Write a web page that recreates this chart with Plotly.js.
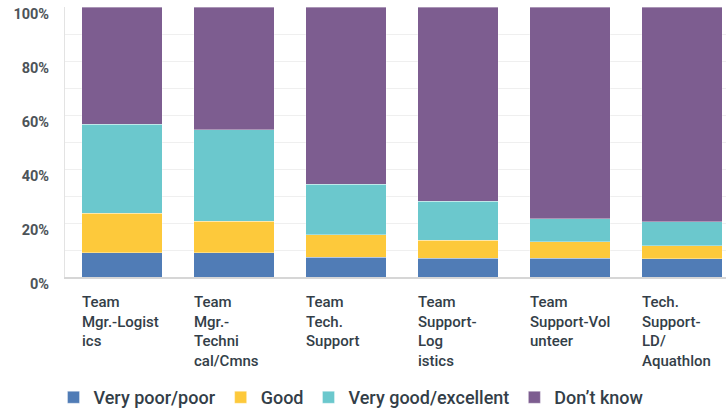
<!DOCTYPE html>
<html>
<head>
<meta charset="utf-8">
<script src="https://cdn.plot.ly/plotly-3.0.1.min.js"></script>
<style>
html,body{margin:0;padding:0;background:#fff;overflow:hidden;}
#chart{width:726px;height:410px;}
</style>
</head>
<body>
<div id="chart"></div>
<script>
const categories = [
  "Team Mgr.-Logistics",
  "Team Mgr.-Technical/Cmns",
  "Team Tech. Support",
  "Team Support-Logistics",
  "Team Support-Volunteer",
  "Tech. Support-LD/Aquathlon"
];
const categoryLabels = [
  "Team<br>Mgr.-Logist<br>ics",
  "Team<br>Mgr.-<br>Techni<br>cal/Cmns",
  "Team<br>Tech.<br>Support",
  "Team<br>Support-<br>Log<br>istics",
  "Team<br>Support-Vol<br>unteer",
  "Tech.<br>Support-<br>LD/<br>Aquathlon"
];
const seriesNames = ["Very poor/poor", "Good", "Very good/excellent", "Don\u2019t know"];
const veryPoorPoor = [9.0, 9.0, 7.4, 7.0, 7.0, 6.7];
const good = [14.6, 11.6, 8.2, 6.6, 6.1, 4.8];
const veryGoodExcellent = [32.9, 34.0, 18.8, 14.4, 8.4, 9.0];
const dontKnow = [43.5, 45.4, 65.6, 72.0, 78.5, 79.5];
const yTickValues = [0, 20, 40, 60, 80, 100];
const yTickLabels = ["0%", "20%", "40%", "60%", "80%", "100%"];

const colors = ["#507cb6", "#fdc93b", "#6bc8cd", "#7d5d90"];
const values = [veryPoorPoor, good, veryGoodExcellent, dontKnow];

const traces = values.map((v, i) => ({
  type: "bar",
  name: seriesNames[i],
  x: categories,
  y: v,
  marker: {color: colors[i], line: {color: "rgba(255,255,255,0.35)", width: 1}},
  hoverinfo: "none"
}));

const annotations = categories.map((c, i) => ({
  x: c, xref: "x",
  y: 0, yref: "paper",
  xanchor: "left", yanchor: "top",
  xshift: -42, yshift: -14,
  align: "left",
  showarrow: false,
  text: categoryLabels[i],
  font: {family: "Roboto, 'Open Sans', sans-serif", size: 15, weight: 500, color: "#333e48"}
}));

const layout = {
  width: 726, height: 410,
  margin: {l: 65, r: 0, t: 7, b: 133, pad: 0, autoexpand: false},
  paper_bgcolor: "#fff", plot_bgcolor: "#fff",
  barmode: "stack",
  bargap: 0.28,
  showlegend: true,
  legend: {
    orientation: "h",
    x: -0.0174, xanchor: "left",
    y: -0.378, yanchor: "top",
    font: {family: "Roboto, 'Open Sans', sans-serif", size: 18, weight: 500, color: "#333e48"},
    traceorder: "normal",
    itemclick: false, itemdoubleclick: false
  },
  xaxis: {
    type: "category",
    range: [-0.509, 5.393],
    showticklabels: false,
    showgrid: false,
    zeroline: false,
    showline: true, linecolor: "#d6d6d6", linewidth: 2,
    ticks: "", fixedrange: true
  },
  yaxis: {
    range: [0, 100],
    tickmode: "array",
    tickvals: yTickValues,
    ticktext: yTickLabels,
    showgrid: true, gridcolor: "#efefef", gridwidth: 1,
    minor: {dtick: 10, showgrid: true, gridcolor: "#efefef", gridwidth: 1},
    zeroline: false,
    showline: true, linecolor: "#e3e3e3", linewidth: 1,
    ticks: "", ticklabelstandoff: 12, ticklabelshift: 7,
    ticklabeloverflow: "allow",
    tickfont: {family: "Roboto, 'Open Sans', sans-serif", size: 14.5, weight: 700, color: "#4d5358"},
    fixedrange: true
  },
  annotations: annotations
};

Plotly.newPlot("chart", traces, layout, {displayModeBar: false, staticPlot: true});
</script>
</body>
</html>
